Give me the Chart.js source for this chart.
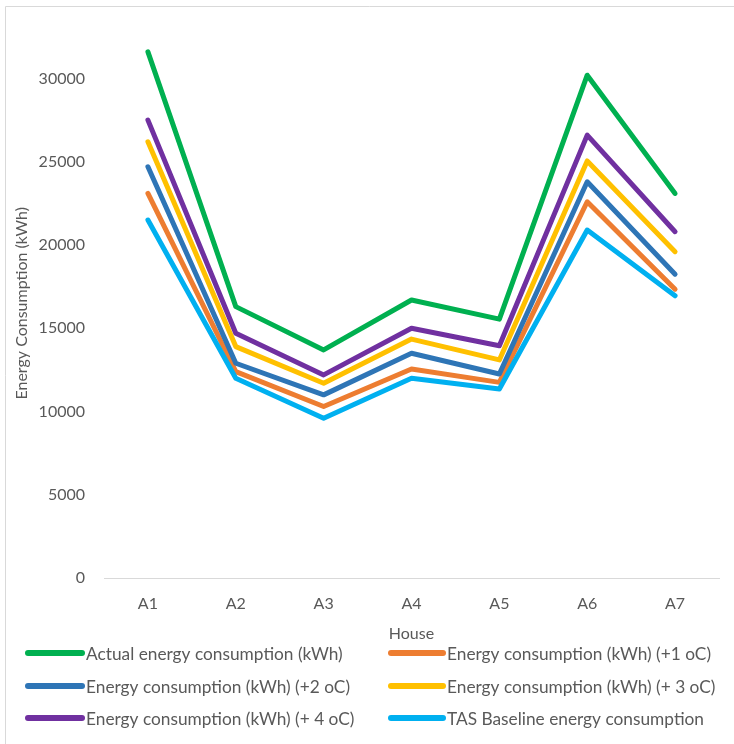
<!DOCTYPE html>
<html lang="en">
<head>
    <meta charset="UTF-8">
    <script src="https://cdn.jsdelivr.net/npm/chart.js"></script>
    <title>Energy Consumption by House</title>
    <style>
        body { margin: 0; background: #fff; }
        #wrap { width: 734px; height: 744px; }
    </style>
</head>
<body>
    <div id="wrap"><canvas id="energyChart" width="734" height="744"></canvas></div>
    <script>
        const houses = ['A1', 'A2', 'A3', 'A4', 'A5', 'A6', 'A7'];
        const yTicks = [0, 5000, 10000, 15000, 20000, 25000, 30000];

        const seriesNames = [
            'Actual energy consumption (kWh)',
            'Energy consumption (kWh) (+1 oC)',
            'Energy consumption (kWh) (+2 oC)',
            'Energy consumption (kWh) (+ 3 oC)',
            'Energy consumption (kWh) (+ 4 oC)',
            'TAS Baseline energy consumption'
        ];
        const actual   = [31600, 16300, 13700, 16700, 15550, 30200, 23100];
        const plus1    = [23100, 12400, 10300, 12550, 11750, 22600, 17350];
        const plus2    = [24700, 12900, 11000, 13500, 12250, 23800, 18250];
        const plus3    = [26200, 13900, 11700, 14350, 13100, 25050, 19600];
        const plus4    = [27500, 14700, 12200, 15000, 13950, 26600, 20800];
        const baseline = [21500, 12000,  9600, 12000, 11350, 20900, 16950];

        const colors = ['#00B050', '#ED7D31', '#2E75B6', '#FFC000', '#7030A0', '#00B0F0'];
        const allSeries = [actual, plus1, plus2, plus3, plus4, baseline];

        const textColor = '#595959';
        const fontFamily = 'Lato, "Open Sans", sans-serif';

        // grey frame on left/top like the Excel chart area
        const framePlugin = {
            id: 'frame',
            beforeDraw(chart) {
                const c = chart.ctx;
                c.save();
                c.strokeStyle = '#d9d9d9';
                c.lineWidth = 1;
                c.beginPath();
                c.moveTo(5.5, 744);
                c.lineTo(5.5, 6.5);
                c.lineTo(734, 6.5);
                c.stroke();
                c.restore();
            }
        };

        // two-column legend at the bottom
        const gridLegend = {
            id: 'gridLegend',
            afterDraw(chart) {
                const c = chart.ctx;
                const rows = [653, 686, 718];
                const cols = [{ x0: 28, x1: 82, tx: 86 }, { x0: 391, x1: 443, tx: 447 }];
                c.save();
                c.font = '17.3px ' + fontFamily;
                c.fillStyle = textColor;
                c.textBaseline = 'middle';
                c.lineCap = 'round';
                c.lineWidth = 6;
                chart.data.datasets.forEach((ds, i) => {
                    const r = rows[Math.floor(i / 2)];
                    const col = cols[i % 2];
                    c.strokeStyle = ds.borderColor;
                    c.beginPath();
                    c.moveTo(col.x0, r);
                    c.lineTo(col.x1, r);
                    c.stroke();
                    c.fillText(ds.label, col.tx, r + 1);
                });
                c.restore();
            }
        };

        const ctx = document.getElementById('energyChart').getContext('2d');
        new Chart(ctx, {
            type: 'line',
            data: {
                labels: houses,
                datasets: allSeries.map((vals, i) => ({
                    label: seriesNames[i],
                    data: vals,
                    borderColor: colors[i],
                    backgroundColor: colors[i],
                    borderWidth: 5,
                    borderCapStyle: 'round',
                    borderJoinStyle: 'round',
                    pointRadius: 0,
                    fill: false,
                    tension: 0,
                    order: allSeries.length - i
                }))
            },
            options: {
                responsive: false,
                animation: false,
                layout: { padding: { left: 5, right: 15, top: 27, bottom: 101 } },
                plugins: {
                    legend: { display: false },
                    tooltip: { enabled: false }
                },
                scales: {
                    x: {
                        offset: true,
                        grid: { display: false, drawTicks: false },
                        border: { display: true, color: '#d9d9d9', width: 1 },
                        ticks: { color: textColor, font: { family: fontFamily, size: 16 }, padding: 16 },
                        title: {
                            display: true,
                            text: 'House',
                            color: textColor,
                            font: { family: fontFamily, size: 16 },
                            padding: 0
                        },
                        afterFit: s => { s.height = 65; }
                    },
                    y: {
                        min: 0,
                        max: 33000,
                        grid: { display: false, drawTicks: false },
                        border: { display: false },
                        ticks: {
                            color: textColor,
                            font: { family: fontFamily, size: 16 },
                            padding: 19,
                            callback: v => String(v)
                        },
                        afterBuildTicks: s => { s.ticks = yTicks.map(v => ({ value: v })); },
                        title: {
                            display: true,
                            text: 'Energy Consumption (kWh)',
                            color: textColor,
                            font: { family: fontFamily, size: 16 },
                            padding: { top: 7, bottom: 0 }
                        },
                        afterFit: s => { s.width = 99; }
                    }
                }
            },
            plugins: [framePlugin, gridLegend]
        });
    </script>
</body>
</html>
